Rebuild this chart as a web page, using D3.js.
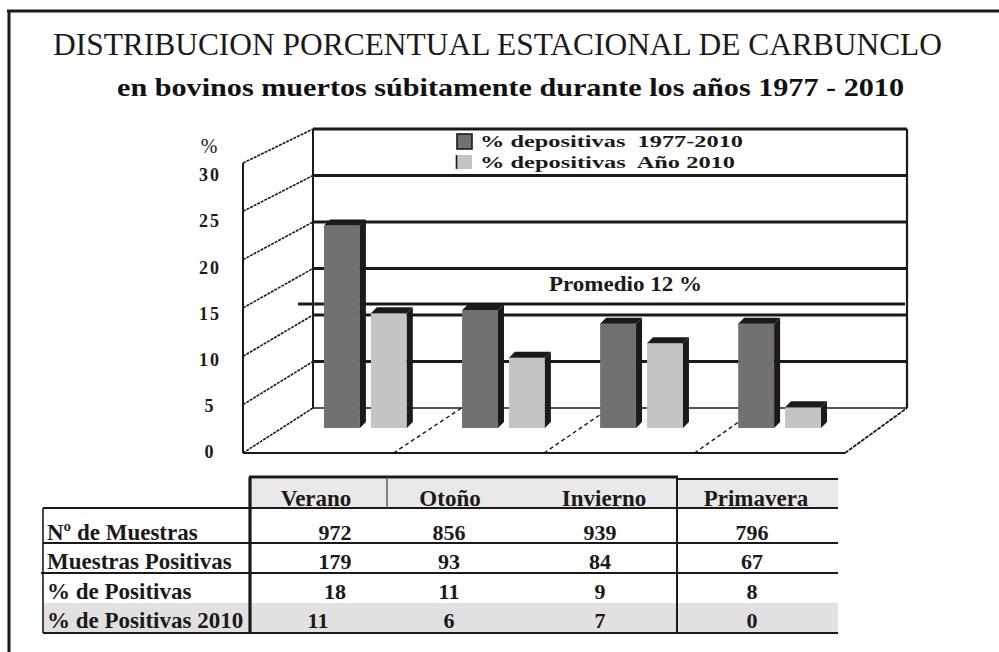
<!DOCTYPE html>
<html><head><meta charset="utf-8">
<script src="https://cdn.jsdelivr.net/npm/d3@7/dist/d3.min.js"></script>
<style>body{margin:0;background:#fff;overflow:hidden} svg{display:block}</style>
</head><body>
<svg id="c" width="999" height="652"></svg>
<script>
// ---------- data ----------
const titleText = "DISTRIBUCION PORCENTUAL ESTACIONAL DE CARBUNCLO";
const subtitleText = "en bovinos muertos súbitamente durante los años 1977 - 2010";
const seasons = ["Verano", "Otoño", "Invierno", "Primavera"];
const seriesNames = ["% depositivas  1977-2010", "% depositivas  Año 2010"];
const pos19772010 = [19.6, 11.4, 10.1, 10.1];   // bar heights
const pos2010 = [11.1, 6.8, 8.2, 2.0];
const promedio = 12;
const promedioLabel = "Promedio 12 %";
const yTicks = [0, 5, 10, 15, 20, 25, 30];
const rowLabels = ["Nº de Muestras", "Muestras Positivas", "% de Positivas", "% de Positivas 2010"];
const nMuestras = [972, 856, 939, 796];
const muestrasPositivas = [179, 93, 84, 67];
const pctPositivas = [18, 11, 9, 8];
const pctPositivas2010 = [11, 6, 7, 0];

// ---------- setup ----------
const svg = d3.select("#c");
const ink = "#1c1917";
const serif = "'Liberation Serif','Times New Roman',Times,serif";
const darkFill = "#717171", lightFill = "#c4c4c4";
const seriesValues = [pos19772010, pos2010];
const seriesFill = [darkFill, lightFill];

function line(g, x1, y1, x2, y2, w, extra) {
  const l = g.append("line").attr("x1", x1).attr("y1", y1).attr("x2", x2).attr("y2", y2)
    .attr("stroke", ink).attr("stroke-width", w);
  if (extra) l.attr("stroke-dasharray", extra);
  return l;
}

// outer frame
line(svg, 7, 11, 999, 11, 3);
line(svg, 9, 10, 9, 652, 3);

// titles
svg.append("text").attr("x", 53).attr("y", 55).attr("font-family", serif).attr("font-size", 32)
  .attr("fill", "#1a1a1a").attr("textLength", 889).attr("lengthAdjust", "spacingAndGlyphs").text(titleText);
svg.append("text").attr("x", 117).attr("y", 96).attr("font-family", serif).attr("font-size", 25)
  .attr("font-weight", "bold").attr("fill", "#111").attr("textLength", 787)
  .attr("lengthAdjust", "spacingAndGlyphs").text(subtitleText);

// ---------- 3D geometry scales ----------
const yFront = d3.scaleLinear().domain([0, 30]).range([453, 163]);
const yBack = d3.scaleLinear().domain([0, 30]).range([408, 129]);
const yLab = d3.scaleLinear().domain([0, 30]).range([452, 175]);
const yBar = d3.scaleLinear().domain([0, 30]).range([428, 118]);
const xFloorFront = d3.scaleLinear().domain([0, 4]).range([243, 845]);
const xFloorBack = d3.scaleLinear().domain([0, 4]).range([313, 907]);
const x = d3.scaleBand().domain(seasons).range([278, 867]).paddingInner(0.4).paddingOuter(0.333);
const xs = d3.scaleBand().domain([0, 1]).range([0, x.bandwidth()]).paddingInner(0.234);

const chart = svg.append("g");

// left side wall: slanted value lines
yTicks.forEach(v => {
  line(chart, xFloorFront(0), yFront(v), xFloorBack(0), yBack(v), 1.6, "3,1");
});
line(chart, xFloorFront(0), yFront(30), xFloorFront(0), yFront(0), 2);

// back wall gridlines
yTicks.forEach(v => {
  line(chart, xFloorBack(0), yBack(v), xFloorBack(4), yBack(v), v === 0 ? 1.6 : 2.8);
});
line(chart, xFloorBack(0), yBack(30), xFloorBack(0), yBack(0), 2);
line(chart, xFloorBack(4), yBack(30), xFloorBack(4), yBack(0), 2.2);

// floor
line(chart, xFloorFront(0), yFront(0), xFloorFront(4), yFront(0), 2);
line(chart, xFloorFront(4), yFront(0), xFloorBack(4), yBack(0), 1.8, "4,1");
[1, 2, 3].forEach(i => {
  line(chart, xFloorFront(i), yFront(0), xFloorBack(i), yBack(0), 1.4, "4,3");
});

// y-axis labels
chart.selectAll("text.ylab").data(yTicks).join("text").attr("class", "ylab")
  .attr("x", 210).attr("y", d => yLab(d)).attr("dy", "0.35em").attr("text-anchor", "middle")
  .attr("font-family", serif).attr("font-weight", "bold").attr("font-size", 18)
  .attr("letter-spacing", 2).attr("fill", ink).text(d => d);
chart.append("text").attr("x", 209).attr("y", 146).attr("dy", "0.35em").attr("text-anchor", "middle")
  .attr("font-family", serif).attr("font-size", 20).attr("fill", ink).text("%");

// promedio line
line(chart, 298, yBar(promedio), 905, yBar(promedio), 3);
chart.append("text").attr("x", 549).attr("y", 291).attr("font-family", serif).attr("font-weight", "bold")
  .attr("font-size", 20).attr("fill", ink).attr("textLength", 153).attr("lengthAdjust", "spacingAndGlyphs")
  .text(promedioLabel);

// bars
const d = 6;
seasons.forEach((s, i) => {
  seriesValues.forEach((vals, k) => {
    const x0 = x(s) + xs(k), x1 = x0 + xs.bandwidth();
    const yT = yBar(vals[i]), yB = yBar(0);
    const g = chart.append("g");
    g.append("rect").attr("x", x0).attr("y", yT).attr("width", x1 - x0).attr("height", yB - yT)
      .attr("fill", seriesFill[k]);
    g.append("polygon").attr("points", [[x0, yT], [x0 + d, yT - d], [x1 + d, yT - d], [x1, yT]].join(" "))
      .attr("fill", ink);
    g.append("polygon").attr("points", [[x1, yT], [x1 + d, yT - d], [x1 + d, yB - d], [x1, yB]].join(" "))
      .attr("fill", ink);
  });
});

// legend
const leg = svg.append("g");
leg.append("rect").attr("x", 457).attr("y", 134).attr("width", 15).attr("height", 15)
  .attr("fill", darkFill).attr("stroke", ink).attr("stroke-width", 1.6);
leg.append("rect").attr("x", 457).attr("y", 155).attr("width", 15).attr("height", 14).attr("fill", lightFill);
line(leg, 456.5, 155, 456.5, 169, 1.6);
leg.append("text").attr("x", 480).attr("y", 147).attr("font-family", serif).attr("font-weight", "bold")
  .attr("font-size", 17.5).attr("fill", ink).attr("textLength", 263).attr("lengthAdjust", "spacingAndGlyphs")
  .attr("xml:space", "preserve").text(seriesNames[0]);
leg.append("text").attr("x", 480).attr("y", 168).attr("font-family", serif).attr("font-weight", "bold")
  .attr("font-size", 17.5).attr("fill", ink).attr("textLength", 255).attr("lengthAdjust", "spacingAndGlyphs")
  .attr("xml:space", "preserve").text(seriesNames[1]);

// ---------- table ----------
const t = svg.append("g");
const rowsY = [508, 543, 573, 603, 633];
const colCenters = [316, 450, 604, 756];
const valCenters = [335, 449, 600, 752];
t.append("rect").attr("x", 249).attr("y", 479).attr("width", 589).attr("height", 29).attr("fill", "#e9e9e9");
t.append("rect").attr("x", 43).attr("y", rowsY[3]).attr("width", 795).attr("height", rowsY[4] - rowsY[3]).attr("fill", "#e1e1e1");

line(t, 249, 477, 678, 477, 3);
line(t, 677, 479, 838, 479, 2);
line(t, 43, rowsY[0], 838, rowsY[0], 2);
line(t, 43, rowsY[1], 838, rowsY[1], 2);
line(t, 41, rowsY[2], 838, rowsY[2], 2);
line(t, 43, rowsY[4], 838, rowsY[4], 2);
line(t, 43, rowsY[0], 43, rowsY[4], 1.6);
line(t, 387, 477, 387, rowsY[0], 1.4).attr("stroke", "#555");
line(t, 677, 477, 677, rowsY[4], 2);

t.selectAll("text.hdr").data(seasons).join("text").attr("class", "hdr")
  .attr("x", (s, i) => colCenters[i]).attr("y", 506).attr("text-anchor", "middle")
  .attr("font-family", serif).attr("font-weight", "bold").attr("font-size", 23).attr("fill", ink).text(s => s);

const tableRows = [nMuestras, muestrasPositivas, pctPositivas, pctPositivas2010];
const baselines = [540, 569, 599, 628];
rowLabels.forEach((lab, r) => {
  t.append("text").attr("x", 47).attr("y", baselines[r]).attr("font-family", serif)
    .attr("font-weight", "bold").attr("font-size", 23).attr("fill", ink).text(lab);
  tableRows[r].forEach((v, c) => {
    const cx = (r === 3 && c === 0) ? 318 : valCenters[c];
    t.append("text").attr("x", cx).attr("y", baselines[r]).attr("text-anchor", "middle")
      .attr("font-family", serif).attr("font-weight", "bold").attr("font-size", 22).attr("fill", ink).text(v);
  });
});
// thick divider over row labels
line(t, 250, 477, 250, rowsY[4], 3.2);
</script>
</body></html>
